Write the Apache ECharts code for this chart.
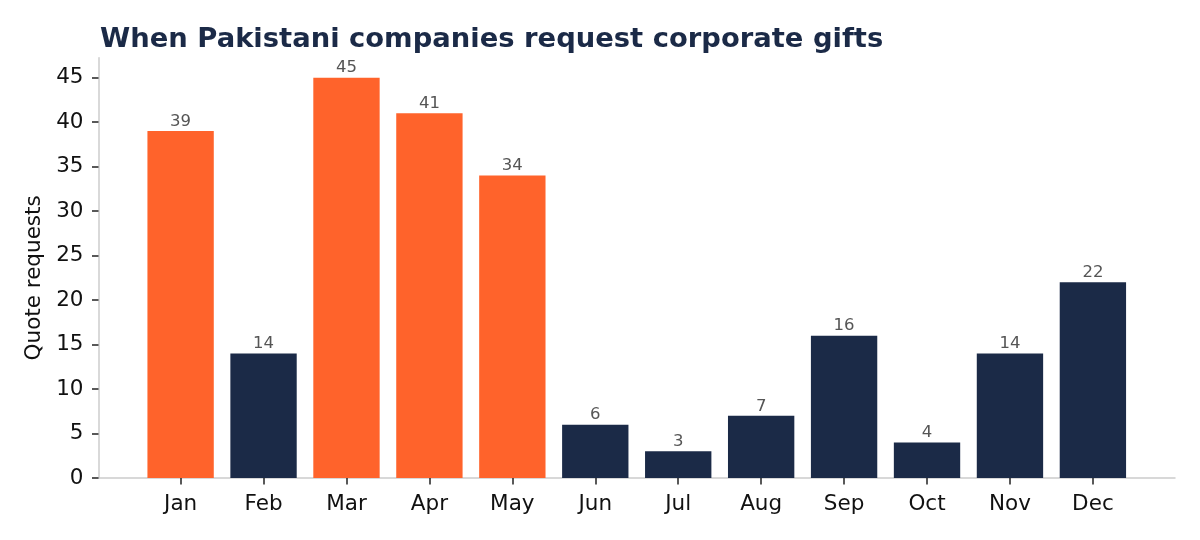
<!DOCTYPE html>
<html><head><meta charset="utf-8">
<script src="https://cdn.jsdelivr.net/npm/echarts@6/dist/echarts.min.js"></script>
<style>html,body{margin:0;padding:0;background:#fff}#c{width:1200px;height:540px}</style>
</head><body><div id="c"></div>
<script>
const months = ['Jan','Feb','Mar','Apr','May','Jun','Jul','Aug','Sep','Oct','Nov','Dec'];
const requests = [39,14,45,41,34,6,3,7,16,4,14,22];
const peakMonths = ['Jan','Mar','Apr','May'];
const yMax = 45, yStep = 5, yLimit = 47.25;
const ORANGE = '#FF632B', NAVY = '#1B2A47';
const font = 'DejaVu Sans';
const chart = echarts.init(document.getElementById('c'));
const axisL = 98.5, axisR = 1175, gridTop = 57.7, gridBottom = 62;
const plotH = 540 - gridTop - gridBottom;
const innerTop = gridTop + plotH * (1 - yMax / yLimit);
const unit = (axisR - axisL) / 12.98;
const pad = 0.49 * unit;
const tickFS = 21.5;
chart.setOption({
  animation:false,
  title:{text:'When Pakistani companies request corporate gifts', left:95, top:21,
    textStyle:{fontFamily:font, fontWeight:'bold', fontSize:27.4, color:NAVY}},
  grid:[
    {left:axisL, right:1200-axisR, top:gridTop, bottom:gridBottom},
    {left:axisL+pad, right:1200-axisR+pad, top:innerTop, bottom:gridBottom}
  ],
  xAxis:[
    {type:'value', gridIndex:0, min:0, max:1, axisLine:{show:true, lineStyle:{color:'#cccccc', width:1.5}},
      axisTick:{show:false}, axisLabel:{show:false}, splitLine:{show:false}},
    {type:'category', gridIndex:1, data:months, axisLine:{show:false},
      axisTick:{show:true, alignWithLabel:true, length:6.5, lineStyle:{color:'#222', width:1.5}},
      axisLabel:{fontFamily:font, fontSize:tickFS, color:'#111', margin:15}}
  ],
  yAxis:[
    {type:'value', gridIndex:0, min:0, max:yLimit,
      axisLine:{show:true, lineStyle:{color:'#cccccc', width:1.5}},
      axisTick:{show:false}, axisLabel:{show:false}, splitLine:{show:false}},
    {type:'value', gridIndex:1, min:0, max:yMax, interval:yStep, offset:pad,
      axisLine:{show:false},
      axisTick:{show:true, length:6.5, lineStyle:{color:'#222', width:1.5}},
      axisLabel:{fontFamily:font, fontSize:tickFS, color:'#111', margin:15},
      splitLine:{show:false},
      name:'Quote requests', nameLocation:'middle', nameGap:53, nameRotate:90,
      nameTextStyle:{fontFamily:font, fontSize:tickFS, color:'#111'}}
  ],
  series:[{
    type:'bar', xAxisIndex:1, yAxisIndex:1, barWidth:'80%',
    data:requests.map((v,i)=>({value:v, itemStyle:{color: peakMonths.includes(months[i]) ? ORANGE : NAVY}})),
    label:{show:true, position:'top', distance:1, fontFamily:font, fontSize:16.5, color:'#555'}
  }]
});
</script></body></html>
